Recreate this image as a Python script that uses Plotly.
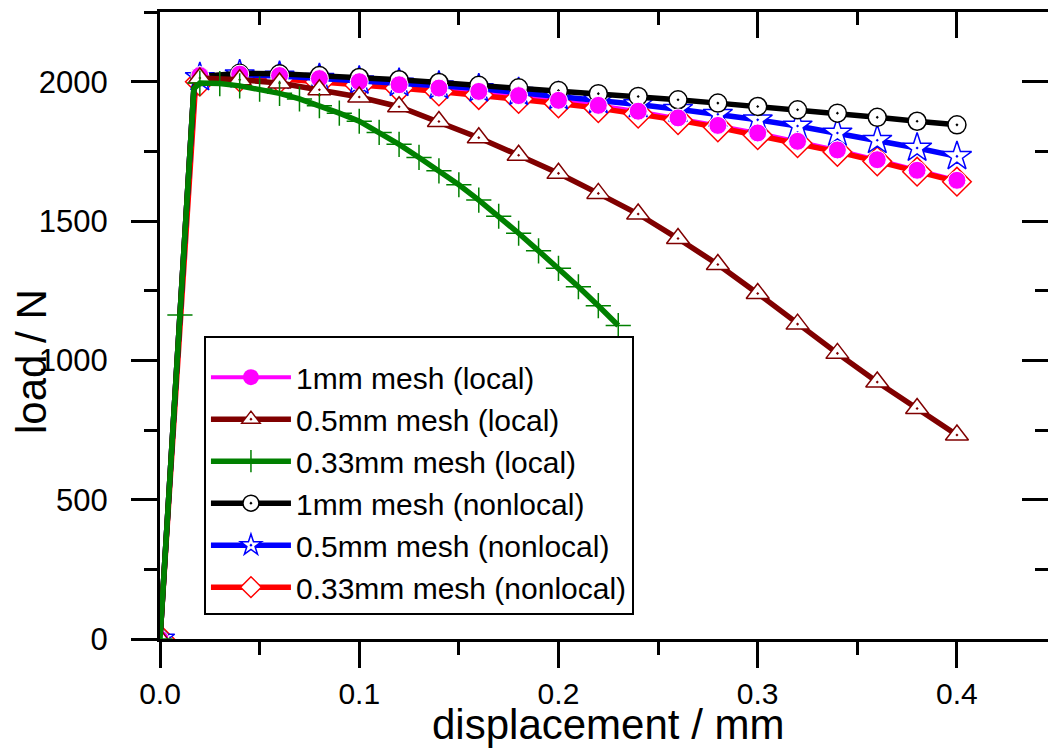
import plotly.graph_objects as go

# ---------------- data ----------------
disp_main = [0.02, 0.04, 0.06, 0.08, 0.10, 0.12, 0.14, 0.16, 0.18, 0.20,
             0.22, 0.24, 0.26, 0.28, 0.30, 0.32, 0.34, 0.36, 0.38, 0.40]

# elastic branch (origin and the corner where the curves bend over)
disp_elastic = [0.0, 0.017]
disp_elastic_red = [0.0, 0.0175]

load_1mm_local = [0, 1975,
                  2022, 2027, 2022, 2011, 2000, 1989, 1977, 1965, 1950, 1933,
                  1915, 1894, 1870, 1843, 1816, 1786, 1755, 1720, 1682, 1646]
load_05mm_local = [0, 1975,
                   2013, 2007, 1995, 1971, 1945, 1910, 1857, 1799, 1736, 1671,
                   1599, 1525, 1437, 1344, 1240, 1130, 1025, 922, 827, 732]
load_1mm_nonlocal = [0, 1975,
                     2018, 2030, 2028, 2022, 2015, 2007, 1997, 1987, 1978, 1968,
                     1957, 1947, 1935, 1923, 1911, 1899, 1887, 1872, 1858, 1845]
load_05mm_nonlocal = [0, 1975,
                      2015, 2025, 2020, 2012, 2003, 1995, 1985, 1975, 1962, 1947,
                      1933, 1918, 1901, 1883, 1863, 1841, 1816, 1790, 1762, 1732]
load_033mm_nonlocal = [0, 1950,
                       2000, 2015, 2010, 2000, 1988, 1977, 1965, 1952, 1938, 1922,
                       1905, 1885, 1862, 1836, 1808, 1779, 1748, 1714, 1677, 1641]

disp_033mm_local = [0.0, 0.01, 0.017, 0.02, 0.03, 0.04, 0.05, 0.06, 0.07, 0.08,
                    0.09, 0.10, 0.11, 0.12, 0.13, 0.14, 0.15, 0.16, 0.17, 0.18,
                    0.19, 0.20, 0.21, 0.22, 0.23]
load_033mm_local = [0, 1163, 1975, 1995, 1993, 1985, 1973, 1958, 1938, 1914,
                    1887, 1858, 1818, 1775, 1728, 1680, 1630, 1575, 1517, 1456,
                    1393, 1330, 1264, 1196, 1125]

names = ["1mm mesh (local)", "0.5mm mesh (local)", "0.33mm mesh (local)",
         "1mm mesh (nonlocal)", "0.5mm mesh (nonlocal)", "0.33mm mesh (nonlocal)"]

x_ticks = [0.0, 0.1, 0.2, 0.3, 0.4]
y_ticks = [0, 500, 1000, 1500, 2000]
x_range = [0, 0.4457]
y_range = [0, 2250]

FONT = "Arial, 'Liberation Sans', sans-serif"


def sizes(n, s, hidden):
    out = [s] * n
    for i in hidden:
        out[i] = 0
    return out


fig = go.Figure()

x_std = disp_elastic + disp_main
x_red = disp_elastic_red + disp_main
LW = 5.5

# magenta (line + legend, drawn underneath)
fig.add_trace(go.Scatter(
    x=x_std, y=load_1mm_local, name=names[0], mode="lines+markers", legendrank=1,
    line=dict(color="#FF00FF", width=4),
    marker=dict(symbol="circle", color="#FF00FF", opacity=1,
                size=sizes(len(x_std), 18, [1]), line=dict(width=0))))
# red nonlocal 0.33
fig.add_trace(go.Scatter(
    x=x_red, y=load_033mm_nonlocal, name=names[5], mode="lines+markers", legendrank=6,
    line=dict(color="#FF0000", width=LW),
    marker=dict(symbol="diamond", color="white", opacity=1,
                size=sizes(len(x_red), 22, [1]),
                line=dict(color="#FF0000", width=1.5))))
# blue nonlocal 0.5
fig.add_trace(go.Scatter(
    x=x_std, y=load_05mm_nonlocal, name=names[4], mode="lines+markers", legendrank=5,
    line=dict(color="#0000FF", width=LW),
    marker=dict(symbol="star-dot", color="white", opacity=1,
                size=sizes(len(x_std), 22, [1]),
                line=dict(color="#0000FF", width=1.5))))
# black nonlocal 1mm
fig.add_trace(go.Scatter(
    x=x_std, y=load_1mm_nonlocal, name=names[3], mode="lines+markers", legendrank=4,
    line=dict(color="#000000", width=LW),
    marker=dict(symbol="circle-dot", color="white", opacity=1,
                size=sizes(len(x_std), 18, [1]),
                line=dict(color="#000000", width=1.5))))
# magenta markers on top
fig.add_trace(go.Scatter(
    x=x_std, y=load_1mm_local, mode="markers", showlegend=False, hoverinfo="skip",
    marker=dict(symbol="circle", color="#FF00FF", opacity=1,
                size=sizes(len(x_std), 18, [1]))))
# brown local 0.5
fig.add_trace(go.Scatter(
    x=x_std, y=load_05mm_local, name=names[1], mode="lines+markers", legendrank=2,
    line=dict(color="#800000", width=LW),
    marker=dict(symbol="triangle-up-dot", color="white", opacity=1,
                size=sizes(len(x_std), 20, [1]),
                line=dict(color="#800000", width=1.5))))
# green local 0.33
fig.add_trace(go.Scatter(
    x=disp_033mm_local, y=load_033mm_local, name=names[2], mode="lines+markers", legendrank=3,
    line=dict(color="#008000", width=LW),
    marker=dict(symbol="cross-thin", color="#008000", opacity=1,
                size=sizes(len(disp_033mm_local), 18, [2]),
                line=dict(color="#008000", width=1.5))))

# dummy trace for the mirrored (top / right) axes
fig.add_trace(go.Scatter(x=[None], y=[None], xaxis="x2", yaxis="y2",
                         showlegend=False, hoverinfo="skip"))

axis_common = dict(showgrid=False, zeroline=False, showline=True, linecolor="black",
                   linewidth=3, tickcolor="black", tickwidth=3, ticklen=26)

fig.update_layout(
    width=1048, height=749,
    margin=dict(l=160, r=0, t=12, b=110),
    paper_bgcolor="white", plot_bgcolor="white",
    font=dict(family=FONT, color="black", size=31),
    xaxis=dict(range=x_range, tickvals=x_ticks, tickformat=".1f", ticks="outside",
               ticklabelstandoff=0,
               minor=dict(dtick=0.05, tick0=0, ticks="outside", ticklen=13,
                          tickwidth=3, tickcolor="black"),
               tickfont=dict(size=30), **axis_common),
    yaxis=dict(range=y_range, tickvals=y_ticks, ticks="outside",
               ticklabelstandoff=17,
               minor=dict(dtick=250, tick0=0, ticks="outside", ticklen=13,
                          tickwidth=3, tickcolor="black"),
               tickfont=dict(size=31), **axis_common),
    xaxis2=dict(range=x_range, overlaying="x", side="top", anchor="y2",
                tickvals=x_ticks, ticks="inside", showticklabels=False,
                minor=dict(dtick=0.05, tick0=0, ticks="inside", ticklen=13,
                           tickwidth=3, tickcolor="black"),
                **axis_common),
    yaxis2=dict(range=y_range, overlaying="y", side="right", anchor="x2",
                tickvals=y_ticks, ticks="inside", showticklabels=False,
                minor=dict(dtick=250, tick0=0, ticks="inside", ticklen=13,
                           tickwidth=3, tickcolor="black"),
                **axis_common),
    legend=dict(x=0.0495, y=0.483, xanchor="left", yanchor="top",
                bgcolor="white", bordercolor="black", borderwidth=2,
                font=dict(size=30, family=FONT), itemwidth=80,
                title=dict(text=" ", font=dict(size=10))),
    annotations=[
        dict(text="displacement / mm", xref="paper", yref="paper",
             x=0.5045, y=-0.136, xanchor="center", yanchor="middle",
             showarrow=False, font=dict(size=42, family=FONT)),
        dict(text="load / N", xref="paper", yref="paper", textangle=-90,
             x=-0.144, y=0.442, xanchor="center", yanchor="middle",
             showarrow=False, font=dict(size=42, family=FONT)),
    ],
)

fig.write_html("out.html")
